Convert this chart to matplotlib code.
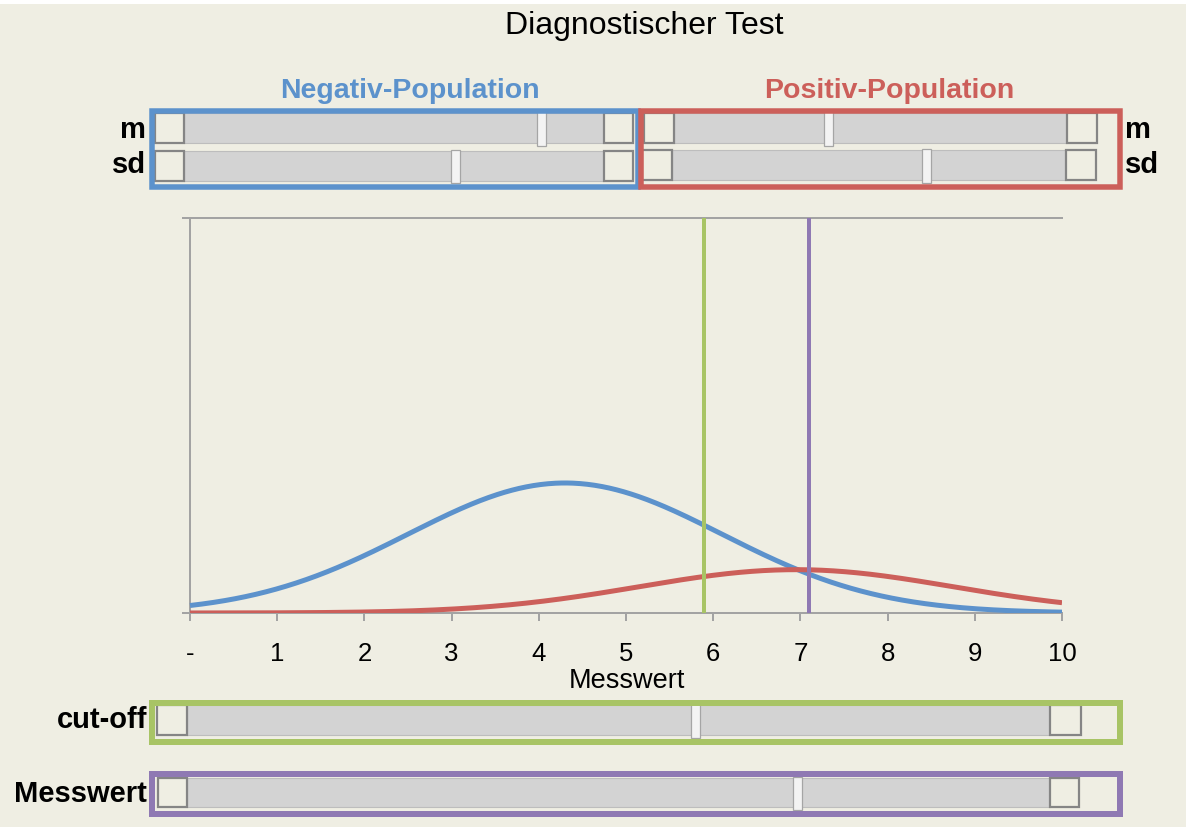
import numpy as np
import matplotlib
matplotlib.use("Agg")
import matplotlib.pyplot as plt
from matplotlib.patches import Rectangle

plt.rcParams['font.family'] = ['Liberation Sans', 'DejaVu Sans']

# ---------------- data ----------------
title = "Diagnostischer Test"
pop_names = ["Negativ-Population", "Positiv-Population"]
pop_m = [4.3, 6.95]          # means (slider m)
pop_sd = [1.8, 1.8]          # standard deviations (slider sd)
pop_weight = [0.75, 0.25]    # population shares
cutoff = 5.9
messwert = 7.1
xticks = [0, 1, 2, 3, 4, 5, 6, 7, 8, 9, 10]
xticklabels = ["-", "1", "2", "3", "4", "5", "6", "7", "8", "9", "10"]
xlabel = "Messwert"
# slider ranges (min, max)
m_ranges = [(0, 5), (5, 10)]
sd_range = (0.5, 2.5)
x_range = (0, 10)

# ---------------- style ----------------
W, H = 1186, 827
BG = "#EFEEE3"
BLUE = "#5C92CC"
RED = "#CC5F5A"
GREEN = "#A8C465"
PURPLE = "#8F79B3"
AXGRAY = "#A3A3A3"
TRACK = "#D3D3D3"
BTN = "#858585"
PX = 72.0 / 100.0

fig = plt.figure(figsize=(W / 100, H / 100), dpi=100, facecolor=BG)

ov = fig.add_axes([0, 0, 1, 1], zorder=0)
ov.set_xlim(0, W)
ov.set_ylim(H, 0)
ov.axis("off")


def rect(x0, y0, x1, y1, **kw):
    ov.add_patch(Rectangle((x0, y0), x1 - x0, y1 - y0, **kw))


rect(0, 0, W, 4, fc="white", ec="none")


def slider(xl, xt0, xt1, xr, y0, y1, frac):
    rect(xt0, y0, xt1, y1, fc=TRACK, ec="#BDBDBD", lw=0.8)
    rect(xl, y0, xt0, y1, fc=BG, ec=BTN, lw=1.6)
    rect(xt1, y0, xr, y1, fc=BG, ec=BTN, lw=1.6)
    c = xt0 + 5 + frac * (xt1 - xt0 - 10)
    rect(c - 4.5, y0 - 1, c + 4.5, y1 + 2.5, fc="#F3F3F3", ec="#A5A5A5", lw=0.9)


def frac(v, rng):
    return (v - rng[0]) / (rng[1] - rng[0])


# title
fig.text(644 / W, 1 - 26 / H, title, ha="center", va="center", fontsize=23, color="black")

# population headers
fig.text(410 / W, 1 - 91 / H, pop_names[0], ha="center", va="center",
         fontsize=20.5, fontweight="bold", color=BLUE)
fig.text(889 / W, 1 - 91 / H, pop_names[1], ha="center", va="center",
         fontsize=20.5, fontweight="bold", color=RED)

# top sliders
slider(155, 184, 604, 633, 113, 143, frac(pop_m[0], m_ranges[0]))
slider(155, 184, 604, 633, 150.5, 180.5, frac(pop_sd[0], sd_range))
slider(643.5, 673.5, 1067, 1097, 113, 143, frac(pop_m[1], m_ranges[1]))
slider(642, 672, 1065.5, 1095.5, 149.5, 180, frac(pop_sd[1], sd_range))
# boxes
rect(151.5, 110.5, 638, 186.5, fc="none", ec=BLUE, lw=5.5 * PX)
rect(640.5, 110.5, 1119.5, 186.5, fc="none", ec=RED, lw=5.5 * PX)

lab = dict(fontsize=21, fontweight="bold", color="black", va="center")
fig.text(146 / W, 1 - 130 / H, "m", ha="right", **lab)
fig.text(146 / W, 1 - 165 / H, "sd", ha="right", **lab)
fig.text(1125 / W, 1 - 130 / H, "m", ha="left", **lab)
fig.text(1125 / W, 1 - 165 / H, "sd", ha="left", **lab)

# bottom sliders
slider(157, 187, 1050, 1081, 705, 735, frac(cutoff, x_range))
rect(151.5, 702.5, 1119.5, 742, fc="none", ec=GREEN, lw=6 * PX)
slider(158, 187, 1050, 1079, 778, 807, frac(messwert, x_range))
rect(151.5, 774, 1119.5, 813.5, fc="none", ec=PURPLE, lw=6 * PX)
fig.text(147 / W, 1 - 720 / H, "cut-off", ha="right", **lab)
fig.text(147 / W, 1 - 794 / H, "Messwert", ha="right", **lab)

# ---------------- main plot ----------------
ppu = (1062 - 190) / 10.0
left_px = 183
ax = fig.add_axes([left_px / W, 1 - 613 / H, (1062 - left_px) / W, 395 / H], zorder=1)
ax.set_facecolor("none")
ax.set_xlim(-(190 - left_px) / ppu, 10)
ax.set_ylim(0, 0.505)

x = np.linspace(0, 10, 600)
cols = [BLUE, RED]
for m, s, w, c in zip(pop_m, pop_sd, pop_weight, cols):
    y = w * np.exp(-0.5 * ((x - m) / s) ** 2) / (s * np.sqrt(2 * np.pi))
    ax.plot(x, y, color=c, lw=5 * PX, solid_capstyle="butt", zorder=3)

ax.axvline(cutoff, color=GREEN, lw=4 * PX, zorder=4)
ax.axvline(messwert, color=PURPLE, lw=4 * PX, zorder=4)
ax.axvline(0, color=AXGRAY, lw=2 * PX, zorder=2)

for sp in ["left", "right"]:
    ax.spines[sp].set_visible(False)
for sp in ["top", "bottom"]:
    ax.spines[sp].set_color(AXGRAY)
    ax.spines[sp].set_linewidth(2 * PX)

ax.set_yticks([])
ax.set_xticks(xticks)
ax.set_xticklabels(xticklabels, fontsize=18.5)
ax.tick_params(axis="x", direction="out", length=8 * PX, width=2 * PX,
               color=AXGRAY, pad=15)

fig.text(627 / W, 1 - 681 / H, xlabel, ha="center", va="center", fontsize=19.5, color="black")

fig.savefig("out.png", dpi=100, facecolor=BG)
